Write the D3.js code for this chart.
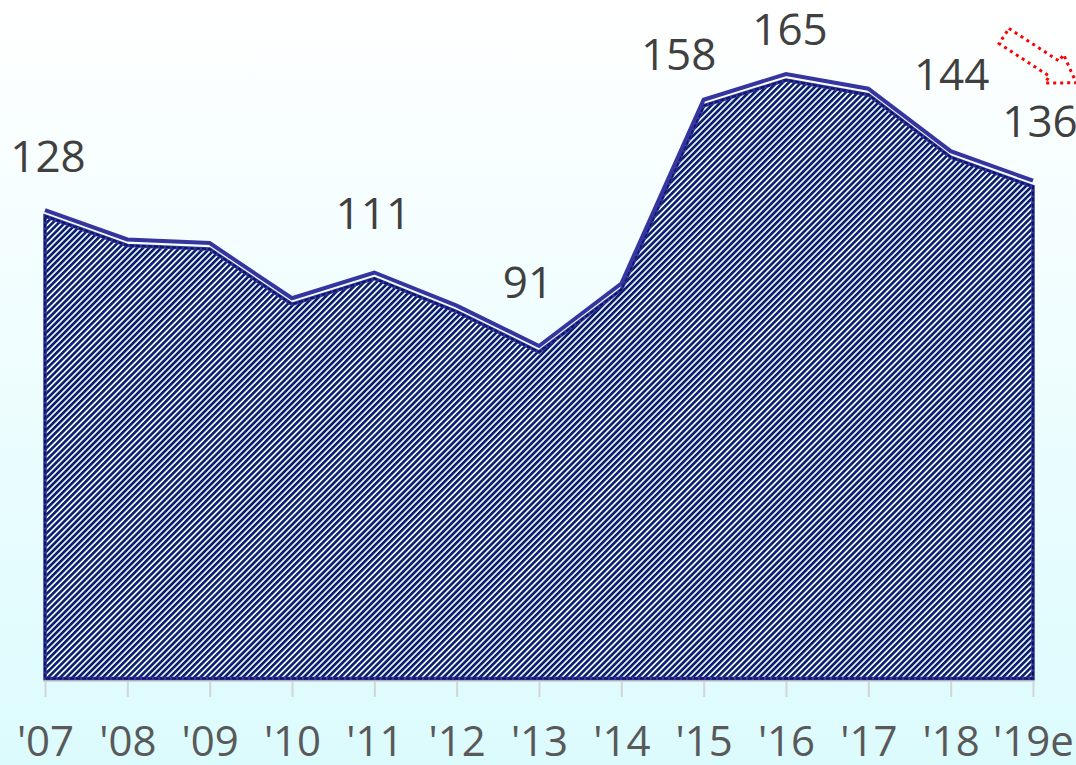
<!DOCTYPE html>
<meta charset="utf-8">
<script src="https://d3js.org/d3.v7.min.js"></script>
<style>
  html, body { margin: 0; padding: 0; overflow: hidden; }
  text { font-family: "Open Sans", "Noto Sans", sans-serif; }
</style>
<body>
<div id="my_dataviz"></div>
<script>

// chart data
var years = ["'07", "'08", "'09", "'10", "'11", "'12", "'13", "'14", "'15", "'16", "'17", "'18", "'19e"];
var values = [128, 120, 119, 104, 111, 102, 91, 108, 158, 165, 161, 144, 136];
var labelled = ["'07", "'11", "'13", "'15", "'16", "'18", "'19e"];

// hand-placed label nudges (like in the original sheet)
var labelNudge = {
  "'07": [3, -38], "'11": [-1, -44], "'13": [-11, -48], "'15": [-25, -30],
  "'16": [4, -29], "'18": [1, -61], "'19e": [7, -44]
};

var width = 1076, height = 765;

var svg = d3.select("#my_dataviz").append("svg")
  .attr("width", width)
  .attr("height", height);

var defs = svg.append("defs");

// background gradient
var bg = defs.append("linearGradient")
  .attr("id", "bg").attr("x1", 0).attr("y1", 0).attr("x2", 0).attr("y2", 1);
bg.append("stop").attr("offset", "0%").attr("stop-color", "#ffffff");
bg.append("stop").attr("offset", "100%").attr("stop-color", "#dcfbfd");

// hatch pattern
var hatch = defs.append("pattern")
  .attr("id", "hatch")
  .attr("patternUnits", "userSpaceOnUse")
  .attr("width", 4.3).attr("height", 4.3)
  .attr("patternTransform", "rotate(45)");
hatch.append("rect").attr("width", 4.3).attr("height", 4.3).attr("fill", "#ffffff");
hatch.append("rect").attr("width", 2.7).attr("height", 4.3).attr("fill", "#08216e");

svg.append("rect")
  .attr("width", width).attr("height", height)
  .attr("fill", "url(#bg)");

// scales
var x = d3.scalePoint()
  .domain(years)
  .range([45, 1033]);

var y = d3.scaleLinear()
  .domain([0, 185])
  .range([680.5, 0.5]);

var data = years.map(function (d, i) { return { year: d, value: values[i] }; });

// x axis
var xAxis = svg.append("g")
  .attr("transform", "translate(0,681)")
  .call(d3.axisBottom(x).tickSize(16).tickPadding(29));
xAxis.select(".domain").attr("stroke", "#d4d4d4").attr("stroke-width", 2)
  .attr("d", "M43,0H1035");
xAxis.selectAll(".tick line").attr("stroke", "#d4d4d4").attr("stroke-width", 2);
xAxis.selectAll(".tick text")
  .attr("fill", "#595959")
  .style("font-size", "42px")
  .style("font-family", "'Open Sans', 'Noto Sans', sans-serif");

// area (hatched)
var area = d3.area()
  .x(function (d) { return x(d.year); })
  .y0(y(0) - 2)
  .y1(function (d) { return y(d.value) + 6; });

svg.append("path")
  .datum(data)
  .attr("d", area)
  .attr("fill", "url(#hatch)")
  .attr("stroke", "#3535a0")
  .attr("stroke-width", 3.5);

svg.append("path")
  .datum(data)
  .attr("d", area)
  .attr("fill", "none")
  .attr("stroke", "#0d1660")
  .attr("stroke-width", 2)
  .attr("stroke-dasharray", "4,2");

// line
var line = d3.line()
  .x(function (d) { return x(d.year); })
  .y(function (d) { return y(d.value); });

svg.append("path")
  .datum(data)
  .attr("d", line)
  .attr("fill", "none")
  .attr("stroke", "#3535a0")
  .attr("stroke-width", 4)
  .attr("stroke-linejoin", "miter");

// value labels
svg.append("g")
  .selectAll("text")
  .data(data.filter(function (d) { return labelled.indexOf(d.year) >= 0; }))
  .enter().append("text")
  .attr("x", function (d) { return x(d.year) + labelNudge[d.year][0]; })
  .attr("y", function (d) { return y(d.value) + labelNudge[d.year][1]; })
  .attr("text-anchor", "middle")
  .attr("fill", "#404040")
  .style("font-size", "44px")
  .text(function (d) { return d.value; });

// red dotted arrow (top right)
var arrow = "M0,-9 L60,-9 L60,-17 L86,0 L60,17 L60,9 L0,9 Z";
svg.append("path")
  .attr("d", arrow)
  .attr("transform", "translate(1004,36) rotate(33)")
  .attr("fill", "none")
  .attr("stroke", "#ff0000")
  .attr("stroke-width", 3)
  .attr("stroke-dasharray", "3,4");

</script>
</body>
